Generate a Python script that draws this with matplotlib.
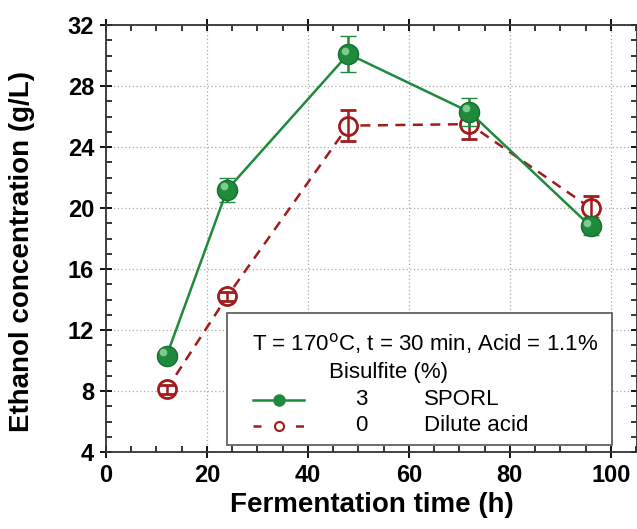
import matplotlib
matplotlib.use("Agg")
import matplotlib.pyplot as plt
from matplotlib.lines import Line2D
from matplotlib.patches import Rectangle
from matplotlib.ticker import MultipleLocator
import matplotlib.transforms as mtransforms

plt.rcParams['font.family'] = ['Liberation Sans', 'DejaVu Sans']

time_h = [12, 24, 48, 72, 96]
sporl = [10.3, 21.2, 30.1, 26.3, 18.8]
sporl_err = [0.3, 0.8, 1.2, 0.9, 0.6]
dilute = [8.1, 14.2, 25.4, 25.5, 20.0]
dilute_err = [0.3, 0.3, 1.0, 1.0, 0.8]

green = '#1e8a3b'
red = '#a01b1b'

fig = plt.figure(figsize=(6.37, 5.29), dpi=100)
ax = fig.add_axes([106 / 637, 1 - 452 / 529, 531 / 637, 427 / 529])

# dilute acid: dashed line with hollow circles, error bars through the circle
ax.plot(time_h, dilute, color=red, ls=(0, (4, 3)), lw=1.8, marker='o', ms=13,
        mfc='white', mec=red, mew=2.0, zorder=3)
ax.errorbar(time_h, dilute, yerr=dilute_err, fmt='none', ecolor=red, capsize=6,
            capthick=2, elinewidth=1.8, zorder=3.5)
# SPORL: solid line with shaded spheres
ax.errorbar(time_h, sporl, yerr=sporl_err, color=green, ls='-', lw=1.8,
            marker='o', ms=14.5, mfc=green, mec='#176f30', mew=1, capsize=6, capthick=2,
            elinewidth=1.8, zorder=4)
off = mtransforms.offset_copy(ax.transData, fig=fig, x=-2.5, y=2.5, units='points')
ax.plot(time_h, sporl, ls='none', marker='o', ms=5.5, mfc='#8fd89c', mec='none',
        alpha=0.85, transform=off, zorder=5)

ax.set_xlim(0, 105.2)
ax.set_ylim(4, 32)
ax.xaxis.set_major_locator(MultipleLocator(20))
ax.xaxis.set_minor_locator(MultipleLocator(5))
ax.yaxis.set_major_locator(MultipleLocator(4))
ax.yaxis.set_minor_locator(MultipleLocator(1))
ax.tick_params(which='major', direction='inout', length=9, width=1.3,
               top=True, right=True, labelsize=17, pad=4)
ax.tick_params(which='minor', direction='in', length=4, width=1.1, top=True, right=True)
for lab in ax.get_xticklabels() + ax.get_yticklabels():
    lab.set_fontweight('bold')
for s in ax.spines.values():
    s.set_linewidth(1.3)
    s.set_color('#333333')
ax.grid(True, which='major', ls=(0, (1, 2)), color='#aaaaaa', lw=0.9)

ax.set_xlabel('Fermentation time (h)', fontsize=20, fontweight='bold', labelpad=4)
ax.set_ylabel('Ethanol concentration (g/L)', fontsize=20, fontweight='bold')
ax.yaxis.set_label_coords((35 - 106) / 531, (452 - 252) / 427)

# legend box
ta = ax.transAxes
fs = 16
ax.add_patch(Rectangle((0.227, 0.0164), 0.726, 0.309, transform=ta, facecolor='white',
                       edgecolor='#555555', lw=1.2, zorder=6))
ax.text(0.60, 0.255, 'T = 170$^{\\mathrm{o}}$C, t = 30 min, Acid = 1.1%', transform=ta,
        ha='center', va='center', fontsize=fs, zorder=7)
ax.text(0.42, 0.187, 'Bisulfite (%)', transform=ta, ha='left', va='center',
        fontsize=fs, zorder=7)
ax.add_line(Line2D([0.276, 0.373], [0.122, 0.122], transform=ta, color=green, lw=1.8,
                   zorder=7))
ax.add_line(Line2D([0.325], [0.122], transform=ta, color=green, marker='o', ms=8,
                   mfc=green, mec=green, zorder=8))
ax.add_line(Line2D([0.276, 0.373], [0.061, 0.061], transform=ta, color=red, lw=1.8,
                   ls=(0, (3.2, 5.3)), zorder=7))
ax.add_line(Line2D([0.325], [0.061], transform=ta, color=red, marker='o', ms=6.5,
                   mfc='white', mec=red, mew=1.5, zorder=8))
ax.text(0.48, 0.122, '3', transform=ta, ha='center', va='center', fontsize=fs, zorder=7)
ax.text(0.48, 0.061, '0', transform=ta, ha='center', va='center', fontsize=fs, zorder=7)
ax.text(0.598, 0.122, 'SPORL', transform=ta, ha='left', va='center', fontsize=fs, zorder=7)
ax.text(0.598, 0.061, 'Dilute acid', transform=ta, ha='left', va='center', fontsize=fs, zorder=7)

fig.savefig('out.png', dpi=100)
